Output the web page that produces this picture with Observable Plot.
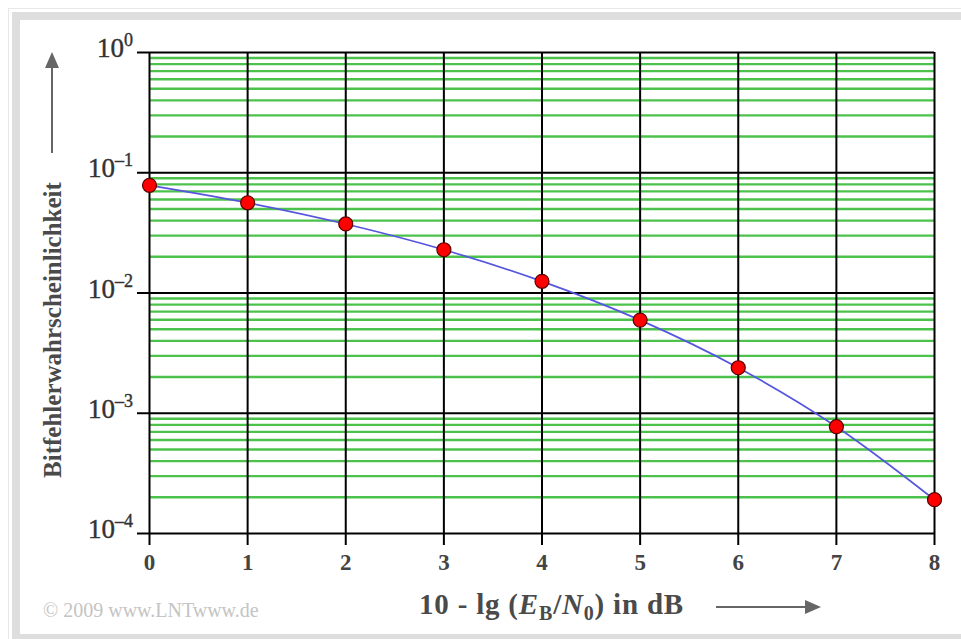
<!DOCTYPE html>
<html>
<head>
<meta charset="utf-8">
<script src="https://cdn.jsdelivr.net/npm/d3@7"></script>
<script src="https://cdn.jsdelivr.net/npm/@observablehq/plot@0.6"></script>
<style>
  html, body { margin: 0; padding: 0; background: #fff; }
  #wrap { position: relative; width: 961px; height: 639px; overflow: hidden; }
  #frame { position: absolute; left: 12px; top: 12px; width: 980px; height: 614px;
           border: 8px solid #dedede; box-sizing: content-box; }
  #frame2 { position: absolute; left: 8px; top: 8px; width: 1000px; height: 700px;
           border: 1px solid #e8e8e8; }
  #chart { position: absolute; left: 0; top: 0; }
</style>
</head>
<body>
<div id="wrap">
  <div id="frame2"></div>
  <div id="frame"></div>
  <div id="chart"></div>
</div>
<script>
// Data: Bitfehlerwahrscheinlichkeit vs 10·lg(EB/N0) in dB
const snrDb = [0, 1, 2, 3, 4, 5, 6, 7, 8];
const ber = [0.0786, 0.0563, 0.0375, 0.0229, 0.0125, 0.00595, 0.00239, 0.000773, 0.000191];
const xTicks = [0, 1, 2, 3, 4, 5, 6, 7, 8];
const decades = [1e-4, 1e-3, 1e-2, 1e-1, 1];
const decadeExp = ["–4", "–3", "–2", "–1", "0"];
const mantissas = [2, 3, 4, 5, 6, 7, 8, 9];

const minor = [];
for (const d of decades.slice(0, 4)) for (const m of mantissas) minor.push(d * m);
const points = snrDb.map((x, i) => ({x, y: ber[i]}));

const serif = "'Liberation Serif', 'DejaVu Serif', serif";

const plot = Plot.plot({
  width: 961,
  height: 639,
  marginLeft: 149,
  marginRight: 27,
  marginTop: 52,
  marginBottom: 106,
  style: {background: "transparent", overflow: "visible"},
  x: {domain: [0, 8]},
  y: {type: "log", domain: [1e-4, 1]},
  marks: [
    Plot.ruleY(minor, {y: d => d, stroke: "#4cc24c", strokeWidth: 2.4}),
    Plot.ruleX(xTicks, {x: d => d, stroke: "#000", strokeWidth: 2}),
    Plot.ruleY(decades, {y: d => d, stroke: "#000", strokeWidth: 2}),
    Plot.axisX(xTicks, {anchor: "bottom", tickSize: 12, strokeWidth: 2, stroke: "#000",
      tickFormat: () => "", label: null}),
    Plot.axisY(decades, {anchor: "left", tickSize: 12, strokeWidth: 2, stroke: "#000",
      tickFormat: () => "", label: null}),
    Plot.line(points, {x: "x", y: "y", stroke: "#5555e0", strokeWidth: 1.7, curve: "catmull-rom"}),
    Plot.dot(points, {x: "x", y: "y", r: 7, fill: "#ff0000", stroke: "#5a0000", strokeWidth: 1.2}),
    Plot.text(xTicks, {x: d => d, frameAnchor: "bottom", dy: 36, text: d => String(d),
      fontFamily: serif, fontSize: 23, fontWeight: "bold", fill: "#444"})
  ]
});
document.getElementById("chart").appendChild(plot);

const svg = d3.select(plot);
const xs = plot.scale("x"), ys = plot.scale("y");
const x0 = xs.apply(0);

// y tick labels 10^k with superscripts
const yl = svg.append("g").attr("font-family", serif).attr("fill", "#333")
  .attr("text-anchor", "end");
decades.forEach((d, i) => {
  const t = yl.append("text")
    .attr("x", x0 - 16)
    .attr("y", ys.apply(d) + 5)
    .attr("font-size", 27)
    .attr("stroke", "#333").attr("stroke-width", 0.4);
  t.append("tspan").text("10");
  t.append("tspan").attr("font-size", 18).attr("dy", -11).text(decadeExp[i]);
});

// Y axis title with arrow
svg.append("text")
  .attr("transform", `translate(61,330) rotate(-90)`)
  .attr("text-anchor", "middle")
  .attr("font-family", serif).attr("font-weight", "bold").attr("font-size", 25)
  .attr("fill", "#4a4a4a")
  .text("Bitfehlerwahrscheinlichkeit");
svg.append("line").attr("x1", 52).attr("x2", 52).attr("y1", 153).attr("y2", 66)
  .attr("stroke", "#666").attr("stroke-width", 2);
svg.append("path").attr("d", "M52,52 L45,68 L59,68 Z").attr("fill", "#666");

// X axis title with arrow
const xt = svg.append("text")
  .attr("x", 419).attr("y", 614)
  .attr("text-anchor", "start")
  .attr("letter-spacing", 0.8)
  .attr("font-family", serif).attr("font-weight", "bold").attr("font-size", 29)
  .attr("fill", "#4a4a4a");
xt.append("tspan").text("10 - lg (");
xt.append("tspan").attr("font-style", "italic").text("E");
xt.append("tspan").attr("font-size", 20).attr("dy", 6).text("B");
xt.append("tspan").attr("dy", -6).text("/");
xt.append("tspan").attr("font-style", "italic").text("N");
xt.append("tspan").attr("font-size", 20).attr("dy", 6).text("0");
xt.append("tspan").attr("dy", -6).text(") in dB");
svg.append("line").attr("x1", 716).attr("x2", 806).attr("y1", 607).attr("y2", 607)
  .attr("stroke", "#666").attr("stroke-width", 2);
svg.append("path").attr("d", "M821,607 L805,600 L805,614 Z").attr("fill", "#666");

// Copyright
svg.append("text").attr("x", 43).attr("y", 617)
  .attr("text-anchor", "start")
  .attr("font-family", serif).attr("font-size", 20).attr("fill", "#c4c4c4")
  .text("© 2009 www.LNTwww.de");
</script>
</body>
</html>
